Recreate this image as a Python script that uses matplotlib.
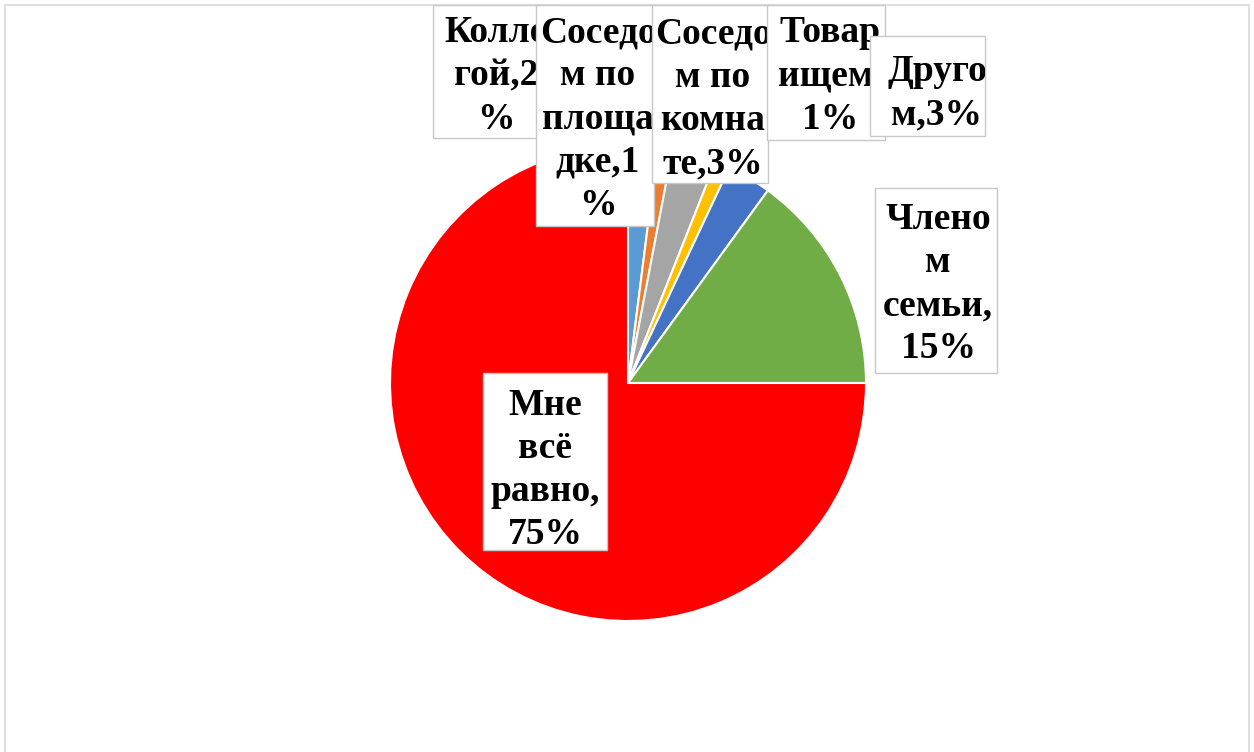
import matplotlib
matplotlib.use("Agg")
import matplotlib.pyplot as plt
from matplotlib.patches import Rectangle

# ---- data ----
categories = ["Коллегой", "Соседом по площадке", "Соседом по комнате",
              "Товарищем", "Другом", "Членом семьи", "Мне всё равно"]
values = [2, 1, 3, 1, 3, 15, 75]
colors = ["#5B9BD5", "#ED7D31", "#A5A5A5", "#FFC000", "#4472C4", "#70AD47", "#FF0000"]
label_texts = ["Колле\nгой,2\n%", "Соседо\nм по\nплоща\nдке,1\n%", "Соседо\nм по\nкомна\nте,3%",
               "Товар\nищем,\n1%", "Друго\nм,3%", "Члено\nм\nсемьи,\n15%", "Мне\nвсё\nравно,\n75%"]

# label box geometry in pixels (x0, y0, x1, y1) and text centre (cx, cy)
boxes = [(433, 5, 557, 138), (536, 5, 654, 226), (652, 5, 768, 183),
         (767, 5, 885, 140), (870, 36, 985, 136), (875, 188, 997, 373),
         (483, 373, 607, 550)]
text_centres = [(496, 76), (598, 119), (713, 99), (830, 76), (937, 93),
                (938, 284), (545, 470)]

W, H = 1254, 752
fig = plt.figure(figsize=(W / 100, H / 100), dpi=100)
fig.patch.set_facecolor("white")

# outer frame
frame_ax = fig.add_axes([0, 0, 1, 1], zorder=0)
frame_ax.set_xlim(0, W)
frame_ax.set_ylim(H, 0)
frame_ax.axis("off")
frame_ax.add_patch(Rectangle((5, 5), W - 10, H + 20, facecolor="white",
                             edgecolor="#D9D9D9", linewidth=1.2))

# pie
cx, cy, r = 628, 383, 238
pie_ax = fig.add_axes([(cx - r) / W, (H - cy - r) / H, 2 * r / W, 2 * r / H], zorder=1)
pie_ax.pie(values, colors=colors, startangle=90, counterclock=False,
           wedgeprops=dict(edgecolor="white", linewidth=1.5))
pie_ax.set_xlim(-1, 1)
pie_ax.set_ylim(-1, 1)
pie_ax.set_aspect("equal")
pie_ax.axis("off")

# labels overlay
ov = fig.add_axes([0, 0, 1, 1], zorder=2)
ov.set_xlim(0, W)
ov.set_ylim(H, 0)
ov.axis("off")
ov.patch.set_alpha(0)

for i, (txt, (x0, y0, x1, y1), (tx, ty)) in enumerate(zip(label_texts, boxes, text_centres)):
    z = 10 + 2 * i
    rect = Rectangle((x0, y0), x1 - x0, y1 - y0, facecolor="white",
                     edgecolor="#C8C8C8", linewidth=1.0, zorder=z)
    ov.add_patch(rect)
    t = ov.text(tx, ty, txt, ha="center", va="center", multialignment="center",
                fontsize=27, fontweight="bold", family="Liberation Serif",
                linespacing=1.3, color="black", zorder=z + 1)
    t.set_clip_on(True)
    t.set_clip_path(rect)

fig.savefig("out.png", dpi=100, facecolor="white")
